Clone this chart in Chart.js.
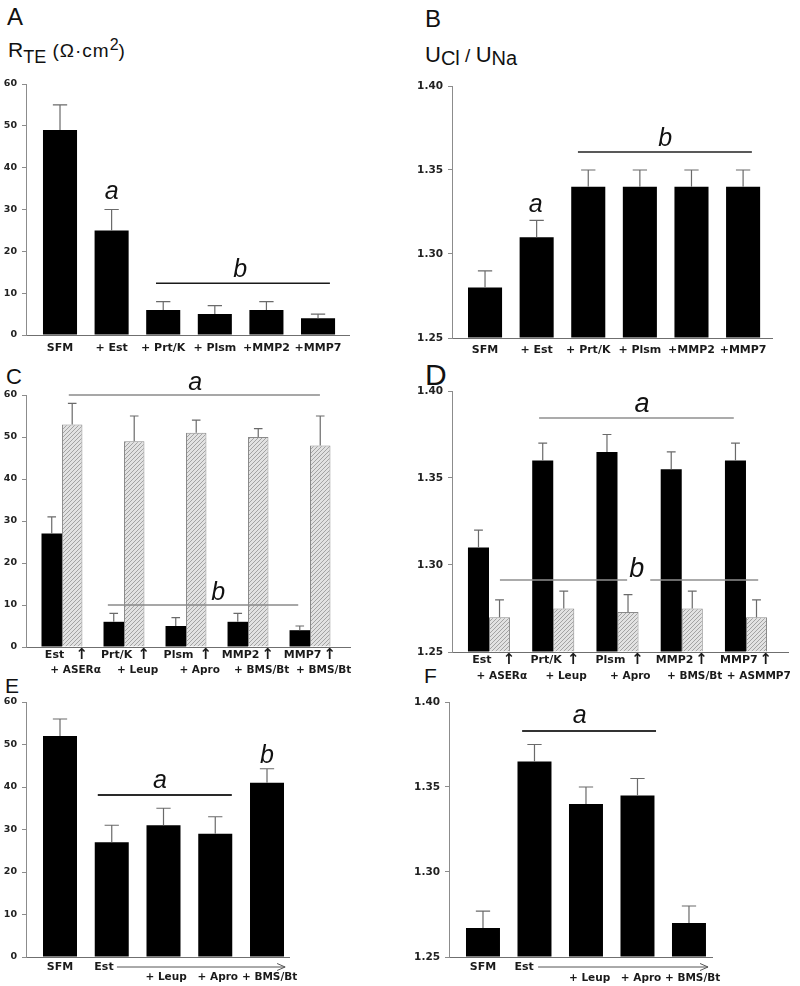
<!DOCTYPE html>
<html>
<head>
<meta charset="utf-8">
<script src="https://cdn.jsdelivr.net/npm/chart.js@4.4.1/dist/chart.umd.min.js"></script>
<style>
  html, body { margin: 0; padding: 0; background: #fff; }
  #fig { position: relative; width: 800px; height: 986px; overflow: hidden; font-family: "Liberation Sans", Arial, sans-serif; color: #111; }
  #fig canvas { position: absolute; }
  .t { position: absolute; line-height: 1; white-space: nowrap; }
  .t span { position: relative; }
</style>
</head>
<body>
<div id="fig">
  <div class="t" style="left:7px;top:5px;font-size:24px">A</div>
  <div class="t" style="left:8px;top:39px;font-size:21px">R<span style="font-size:18px;top:6px">TE</span><span style="font-size:19px;letter-spacing:1px"> (Ω·cm<span style="font-size:16px;top:-7px;letter-spacing:0">2</span>)</span></div>
  <div class="t" style="left:425px;top:7px;font-size:24px">B</div>
  <div class="t" style="left:425px;top:44px;font-size:22px">U<span style="font-size:20px;top:3px">Cl</span><span style="font-size:19px"> / </span>U<span style="font-size:20px;top:3px">Na</span></div>
  <div class="t" style="left:6px;top:366px;font-size:22px">C</div>
  <div class="t" style="left:425px;top:360px;font-size:30px">D</div>
  <div class="t" style="left:5px;top:675px;font-size:21px">E</div>
  <div class="t" style="left:424px;top:665px;font-size:21px">F</div>

  <canvas id="pA" width="400" height="290" style="left:0;top:70px"></canvas>
  <canvas id="pB" width="400" height="290" style="left:400px;top:70px"></canvas>
  <canvas id="pC" width="400" height="325" style="left:0;top:360px"></canvas>
  <canvas id="pD" width="400" height="330" style="left:400px;top:355px"></canvas>
  <canvas id="pE" width="400" height="296" style="left:0;top:690px"></canvas>
  <canvas id="pF" width="400" height="296" style="left:400px;top:690px"></canvas>
</div>
<script>
// ---- data ----
const groupsAB = ['SFM', '+ Est', '+ Prt/K', '+ Plsm', '+MMP2', '+MMP7'];
const rteA = [49, 25, 6, 5, 6, 4];
const rteErrA = [6, 5, 2, 2, 2, 1];
const ratioB = [1.28, 1.31, 1.34, 1.34, 1.34, 1.34];
const ratioErrB = [0.01, 0.01, 0.01, 0.01, 0.01, 0.01];

const enzymesCD = ['Est', 'Prt/K', 'Plsm', 'MMP2', 'MMP7'];
const arrowsCD = ['↑', '↑', '↑', '↑', '↑'];
const blockersC = ['+ ASERα', '+ Leup', '+ Apro', '+ BMS/Bt', '+ BMS/Bt'];
const blockersD = ['+ ASERα', '+ Leup', '+ Apro', '+ BMS/Bt', '+ ASMMP7'];
const rteC = [27, 6, 5, 6, 4];
const rteErrC = [4, 2, 2, 2, 1];
const rteBlockC = [53, 49, 51, 50, 48];
const rteBlockErrC = [5, 6, 3, 2, 7];
const ratioD = [1.31, 1.36, 1.365, 1.355, 1.36];
const ratioErrD = [0.01, 0.01, 0.01, 0.01, 0.01];
const ratioBlockD = [1.27, 1.275, 1.273, 1.275, 1.27];
const ratioBlockErrD = [0.01, 0.01, 0.01, 0.01, 0.01];

const baseEF = ['SFM', 'Est'];
const inhibEF = ['', '', '+ Leup', '+ Apro', '+ BMS/Bt'];
const rteE = [52, 27, 31, 29, 41];
const rteErrE = [4, 4, 4, 4, 3.3];
const ratioF = [1.267, 1.365, 1.34, 1.345, 1.27];
const ratioErrF = [0.01, 0.01, 0.01, 0.01, 0.01];

const ticksRte = [0, 10, 20, 30, 40, 50, 60];
const ticksRatio = [1.25, 1.30, 1.35, 1.40];

// ---- drawing helpers ----
function hatch() {
  const c = document.createElement('canvas');
  c.width = 4; c.height = 4;
  const g = c.getContext('2d');
  g.fillStyle = '#e2e2e2';
  g.fillRect(0, 0, 4, 4);
  g.strokeStyle = '#9c9c9c';
  g.lineWidth = 0.9;
  g.beginPath();
  g.moveTo(0, 4); g.lineTo(4, 0);
  g.moveTo(-1, 1); g.lineTo(1, -1);
  g.moveTo(3, 5); g.lineTo(5, 3);
  g.stroke();
  return g.createPattern(c, 'repeat');
}
const hatchFill = hatch();

const decor = {
  id: 'decor',
  afterDatasetsDraw(chart, args, o) {
    const { ctx, chartArea } = chart;
    const x = chart.scales.x, y = chart.scales.y;
    ctx.save();

    // error bars (upper half only)
    ctx.strokeStyle = '#6a6a6a';
    ctx.lineWidth = 1.2;
    chart.data.datasets.forEach((ds, di) => {
      chart.getDatasetMeta(di).data.forEach((bar, i) => {
        const top = y.getPixelForValue(ds.data[i].y + ds.errors[i]);
        const cap = bar.width * 0.21;
        ctx.beginPath();
        ctx.moveTo(bar.x, bar.y); ctx.lineTo(bar.x, top);
        ctx.moveTo(bar.x - cap, top); ctx.lineTo(bar.x + cap, top);
        ctx.stroke();
      });
    });

    // significance lines and letters
    ctx.strokeStyle = o.lineColor;
    ctx.lineWidth = o.lineWidth;
    o.lines.forEach(([a, b, v]) => {
      const py = y.getPixelForValue(v);
      ctx.beginPath();
      ctx.moveTo(x.getPixelForValue(a), py);
      ctx.lineTo(x.getPixelForValue(b), py);
      ctx.stroke();
    });
    ctx.fillStyle = '#111';
    ctx.font = o.letterFont;
    ctx.textAlign = 'center';
    ctx.textBaseline = 'alphabetic';
    o.letters.forEach(([t, xv, yv]) => ctx.fillText(t, x.getPixelForValue(xv), y.getPixelForValue(yv)));

    // category labels
    ctx.textBaseline = 'middle';
    ctx.fillStyle = '#1a1a1a';
    o.rows.forEach(r => {
      ctx.font = r.font;
      r.texts.forEach((t, i) => {
        if (!t) return;
        const s = Array.isArray(r.shift) ? r.shift[i] : r.shift;
        ctx.fillText(t, x.getPixelForValue(i + s), chartArea.bottom + r.dy);
      });
    });

    // treatment arrow under E / F
    if (o.arrow) {
      const [a, b, dy] = o.arrow;
      const x1 = x.getPixelForValue(a), x2 = x.getPixelForValue(b), py = chartArea.bottom + dy;
      ctx.strokeStyle = '#555';
      ctx.lineWidth = 1;
      ctx.beginPath();
      ctx.moveTo(x1, py); ctx.lineTo(x2, py);
      ctx.moveTo(x2 - 8, py - 3.5); ctx.lineTo(x2, py); ctx.lineTo(x2 - 8, py + 3.5);
      ctx.stroke();
    }
    ctx.restore();
  }
};

function makePanel(p) {
  const [bx, by, bw, bh] = p.box;
  const [l, t, r, b] = p.area;
  const ratio = p.ticks === ticksRatio;
  new Chart(document.getElementById(p.id), {
    type: 'bar',
    data: {
      datasets: p.series.map(s => ({
        data: s.values.map((v, i) => ({ x: i, y: v })),
        errors: s.errors,
        backgroundColor: s.hatched ? hatchFill : '#000',
        borderColor: s.hatched ? '#8a8a8a' : '#000',
        borderWidth: s.hatched ? 1 : 0,
        base: p.ticks[0],
        categoryPercentage: p.pct,
        barPercentage: 1
      }))
    },
    options: {
      responsive: false,
      animation: false,
      layout: { padding: { left: 0, top: t - by, right: bx + bw - r, bottom: 0 } },
      plugins: {
        legend: { display: false },
        tooltip: { enabled: false },
        decor: p.decor
      },
      scales: {
        x: {
          type: 'linear',
          min: p.xRange[0],
          max: p.xRange[1],
          offset: false,
          grid: { display: false, offset: false },
          border: { display: true, color: '#6f6f6f', width: 1 },
          ticks: { display: false },
          afterFit: s => { s.height = by + bh - b; }
        },
        y: {
          min: p.ticks[0],
          max: p.ticks[p.ticks.length - 1],
          afterBuildTicks: s => { s.ticks = p.ticks.map(v => ({ value: v })); },
          grid: { drawOnChartArea: false, drawTicks: true, tickLength: 4, color: '#8c8c8c' },
          border: { display: true, color: '#8c8c8c', width: 1 },
          ticks: {
            padding: 5,
            color: '#222',
            font: { family: 'DejaVu Sans', weight: 'bold', size: ratio ? 10.5 : 9.5 },
            callback: v => ratio ? v.toFixed(2) : String(v)
          },
          afterFit: s => { s.width = l - bx; }
        }
      }
    },
    plugins: [decor]
  });
}

const lbl = 'bold 11px "DejaVu Sans"';
const lbl2 = 'bold 10.5px "DejaVu Sans"';
const lblCD = 'bold 11px "DejaVu Sans"';
const arrowFont = 'bold 15px "DejaVu Sans"';
const letter = 'italic 25px "Liberation Sans"';

makePanel({
  id: 'pA', box: [0, 70, 400, 290], area: [26, 84, 349, 335], xRange: [-0.659, 5.60], pct: 0.66,
  ticks: ticksRte,
  series: [{ values: rteA, errors: rteErrA }],
  decor: {
    lineColor: '#1a1a1a', lineWidth: 1.5, letterFont: letter,
    lines: [[1.86, 5.23, 12.4]],
    letters: [['a', 1, 32.5], ['b', 3.49, 13.9]],
    rows: [{ texts: groupsAB, shift: 0, dy: 13, font: lbl }]
  }
});

makePanel({
  id: 'pB', box: [400, 70, 400, 290], area: [452, 86, 772, 338], xRange: [-0.64, 5.56], pct: 0.66,
  ticks: ticksRatio,
  series: [{ values: ratioB, errors: ratioErrB }],
  decor: {
    lineColor: '#222', lineWidth: 1.5, letterFont: letter,
    lines: [[1.80, 5.17, 1.3607]],
    letters: [['a', 0.98, 1.325], ['b', 3.49, 1.3643]],
    rows: [{ texts: groupsAB, shift: 0, dy: 12, font: lbl }]
  }
});

makePanel({
  id: 'pC', box: [0, 360, 400, 325], area: [26, 395, 350, 647], xRange: [-0.58, 4.645], pct: 0.66,
  ticks: ticksRte,
  series: [
    { values: rteC, errors: rteErrC },
    { values: rteBlockC, errors: rteBlockErrC, hatched: true }
  ],
  decor: {
    lineColor: '#8a8a8a', lineWidth: 1.5, letterFont: letter,
    lines: [[0.11, 4.16, 60], [0.74, 3.81, 10]],
    letters: [['a', 2.15, 61.2], ['b', 2.52, 11.2]],
    rows: [
      { texts: enzymesCD, shift: -0.12, dy: 8, font: lblCD },
      { texts: arrowsCD, shift: 0.32, dy: 8, font: arrowFont },
      { texts: blockersC, shift: 0.22, dy: 23, font: lbl2 }
    ]
  }
});

makePanel({
  id: 'pD', box: [400, 355, 400, 330], area: [452, 391, 788, 652], xRange: [-0.576, 4.654], pct: 0.655,
  ticks: ticksRatio,
  series: [
    { values: ratioD, errors: ratioErrD },
    { values: ratioBlockD, errors: ratioBlockErrD, hatched: true }
  ],
  decor: {
    lineColor: '#8f8f8f', lineWidth: 1.5, letterFont: 'italic 27px "Liberation Sans"',
    lines: [[0.78, 3.81, 1.3845], [0.17, 2.15, 1.2914], [2.51, 4.19, 1.2914]],
    letters: [['a', 2.38, 1.388], ['b', 2.30, 1.293]],
    rows: [
      { texts: enzymesCD, shift: -0.11, dy: 8, font: lblCD },
      { texts: arrowsCD, shift: 0.31, dy: 8, font: arrowFont },
      { texts: blockersD, shift: 0.2, dy: 24, font: lbl2 }
    ]
  }
});

makePanel({
  id: 'pE', box: [0, 690, 400, 296], area: [26, 702, 289, 957], xRange: [-0.657, 4.425], pct: 0.657,
  ticks: ticksRte,
  series: [{ values: rteE, errors: rteErrE }],
  decor: {
    lineColor: '#2a2a2a', lineWidth: 2, letterFont: letter,
    lines: [[0.73, 3.32, 38.1]],
    letters: [['a', 1.93, 39.8], ['b', 4.0, 45.6]],
    rows: [
      { texts: baseEF, shift: [0, -0.15], dy: 10, font: lbl },
      { texts: inhibEF, shift: 0.05, dy: 20, font: lbl2 }
    ],
    arrow: [1.10, 4.35, 10]
  }
});

makePanel({
  id: 'pF', box: [400, 690, 400, 296], area: [449, 702, 712, 957], xRange: [-0.66, 4.447], pct: 0.66,
  ticks: ticksRatio,
  series: [{ values: ratioF, errors: ratioErrF }],
  decor: {
    lineColor: '#333', lineWidth: 2, letterFont: letter,
    lines: [[0.76, 3.36, 1.383]],
    letters: [['a', 1.88, 1.3876]],
    rows: [
      { texts: baseEF, shift: [0, -0.2], dy: 10, font: lbl },
      { texts: inhibEF, shift: 0.07, dy: 21, font: lbl2 }
    ],
    arrow: [1.07, 4.37, 10]
  }
});
</script>
</body>
</html>
